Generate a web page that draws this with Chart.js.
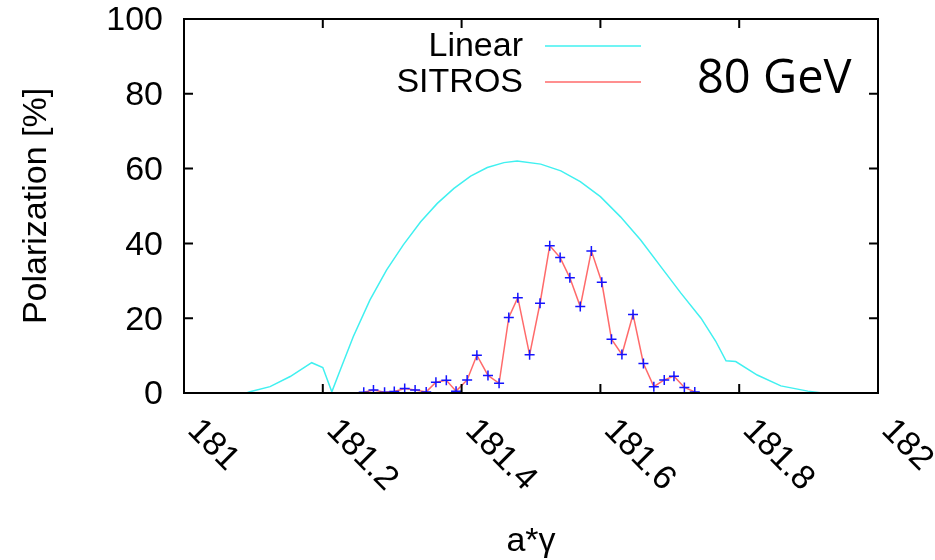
<!DOCTYPE html>
<html>
<head>
<meta charset="utf-8">
<title>Polarization 80 GeV</title>
<script src="https://cdn.jsdelivr.net/npm/chart.js@4.4.1/dist/chart.umd.min.js"></script>
<style>
    body { margin: 0; background: #fff; }
    #wrap { width: 935px; height: 560px; }
</style>
</head>
<body>
<div id="wrap"><canvas id="pol-chart" width="935" height="560"></canvas></div>
<script>
// values
const seriesNames = ['Linear', 'SITROS'];
const xTicks = [181, 181.2, 181.4, 181.6, 181.8, 182];
const yTicks = [0, 20, 40, 60, 80, 100];

const linearX = [181.09, 181.095, 181.124, 181.153, 181.184, 181.2, 181.213, 181.225, 181.244, 181.268,
    181.292, 181.316, 181.341, 181.365, 181.389, 181.413, 181.437, 181.461, 181.48, 181.514,
    181.543, 181.571, 181.6, 181.629, 181.658, 181.687, 181.716, 181.745, 181.766, 181.781,
    181.795, 181.826, 181.86, 181.899, 181.92];
const linearY = [0, 0.35, 1.7, 4.4, 8.1, 6.8, 0.3, 6.1, 15.1, 24.9,
    32.9, 39.6, 45.8, 50.7, 54.7, 58.0, 60.3, 61.6, 62.0, 61.2,
    59.4, 56.5, 52.5, 47.1, 40.9, 33.8, 26.7, 20.0, 13.9, 8.6,
    8.4, 4.8, 1.9, 0.5, 0];

const sitrosX = [181.259, 181.273, 181.289, 181.303, 181.318, 181.333, 181.349, 181.363, 181.378, 181.392,
    181.408, 181.422, 181.438, 181.454, 181.468, 181.481, 181.498, 181.513, 181.527, 181.542,
    181.556, 181.571, 181.587, 181.602, 181.616, 181.631, 181.647, 181.662, 181.677, 181.692,
    181.706, 181.721, 181.736];
const sitrosY = [0.2, 0.8, 0.2, 0.4, 1.2, 0.8, 0.3, 2.9, 3.4, 0.5,
    3.5, 10.1, 4.7, 2.6, 20.2, 25.5, 10.2, 24.0, 39.4, 36.2,
    30.8, 23.1, 38.0, 29.6, 14.4, 10.3, 21.0, 7.9, 1.7, 3.5,
    4.5, 1.5, 0.3];

const cyan = 'rgba(64, 240, 240, 1)'
const red = 'rgba(255, 90, 90, 0.9)'
const blue = 'rgba(20, 20, 255, 1)'
const axisFont = '34px "Liberation Sans", Arial, sans-serif'

const toPoints = (xs, ys) => xs.map((x, i) => ({ x: x, y: ys[i] }));

// frame + inward ticks, gnuplot style
const framePlugin = {
    id: 'frame',
    afterDatasetsDraw(chart) {
        const ctx = chart.ctx;
        const a = chart.chartArea;
        const xs = chart.scales.x;
        const ys = chart.scales.y;
        ctx.save();
        ctx.strokeStyle = '#000';
        ctx.lineWidth = 2;
        xTicks.forEach(v => {
            const px = xs.getPixelForValue(v);
            ctx.beginPath();
            ctx.moveTo(px, a.bottom); ctx.lineTo(px, a.bottom - 9);
            ctx.moveTo(px, a.top); ctx.lineTo(px, a.top + 9);
            ctx.stroke();
        });
        yTicks.forEach(v => {
            const py = ys.getPixelForValue(v);
            ctx.beginPath();
            ctx.moveTo(a.left, py); ctx.lineTo(a.left + 9, py);
            ctx.moveTo(a.right, py); ctx.lineTo(a.right - 9, py);
            ctx.stroke();
        });
        ctx.strokeRect(a.left, a.top, a.right - a.left, a.bottom - a.top);
        ctx.restore();
    },
    afterDraw(chart) {
        const ctx = chart.ctx;
        const a = chart.chartArea;
        const xs = chart.scales.x;
        const ys = chart.scales.y;
        ctx.save();
        ctx.fillStyle = '#000';
        ctx.font = axisFont;

        // y tick labels
        ctx.textAlign = 'right';
        ctx.textBaseline = 'middle';
        yTicks.forEach(v => {
            ctx.fillText(String(v), 163, ys.getPixelForValue(v) + 2);
        });

        // x tick labels, turned 45 deg downwards
        xTicks.forEach(v => {
            const px = xs.getPixelForValue(v);
            ctx.save();
            ctx.translate(px + 21, a.bottom + 20);
            ctx.rotate(Math.PI / 4);
            ctx.textAlign = 'left';
            ctx.textBaseline = 'top';
            ctx.fillText(String(v), 0, 0);
            ctx.restore();
        });

        // axis titles
        ctx.textAlign = 'center';
        ctx.textBaseline = 'middle';
        ctx.fillText('a*\u03b3', (a.left + a.right) / 2, 542);
        ctx.save();
        ctx.translate(37, (a.top + a.bottom) / 2);
        ctx.rotate(-Math.PI / 2);
        ctx.fillText('Polarization [%]', 0, 0);
        ctx.restore();

        // key
        const keyY = [46, 82];
        const keyCol = [cyan, red];
        ctx.textAlign = 'right';
        seriesNames.forEach((name, i) => {
            ctx.fillStyle = '#000';
            ctx.fillText(name, 523, keyY[i] + 1);
            ctx.strokeStyle = keyCol[i];
            ctx.lineWidth = 1.5;
            ctx.beginPath();
            ctx.moveTo(545, keyY[i]);
            ctx.lineTo(641, keyY[i]);
            ctx.stroke();
        });

        // energy tag
        ctx.fillStyle = '#000';
        ctx.font = '47px "Open Sans", sans-serif';
        ctx.textAlign = 'left';
        ctx.textBaseline = 'alphabetic';
        ctx.fillText('80 GeV', 697, 93);
        ctx.restore();
    }
};

const ctx = document.getElementById('pol-chart').getContext('2d');
const chart = new Chart(ctx, {
    type: 'line',
    data: {
        datasets: [
            {
                label: seriesNames[0],
                data: toPoints(linearX, linearY),
                borderColor: cyan,
                borderWidth: 1.5,
                pointRadius: 0,
                tension: 0,
                fill: false
            },
            {
                label: seriesNames[1],
                data: toPoints(sitrosX, sitrosY),
                borderColor: red,
                borderWidth: 1.5,
                pointStyle: 'cross',
                pointRadius: 5,
                pointBorderColor: blue,
                pointBorderWidth: 1.5,
                tension: 0,
                fill: false
            }
        ]
    },
    options: {
        responsive: false,
        animation: false,
        devicePixelRatio: 1,
        layout: {
            padding: { left: 184, top: 19, right: 57, bottom: 167 }
        },
        scales: {
            x: { type: 'linear', min: 181, max: 182, display: false },
            y: { type: 'linear', min: 0, max: 100, display: false }
        },
        plugins: {
            legend: { display: false },
            tooltip: { enabled: false }
        }
    },
    plugins: [framePlugin]
});
</script>
</body>
</html>
